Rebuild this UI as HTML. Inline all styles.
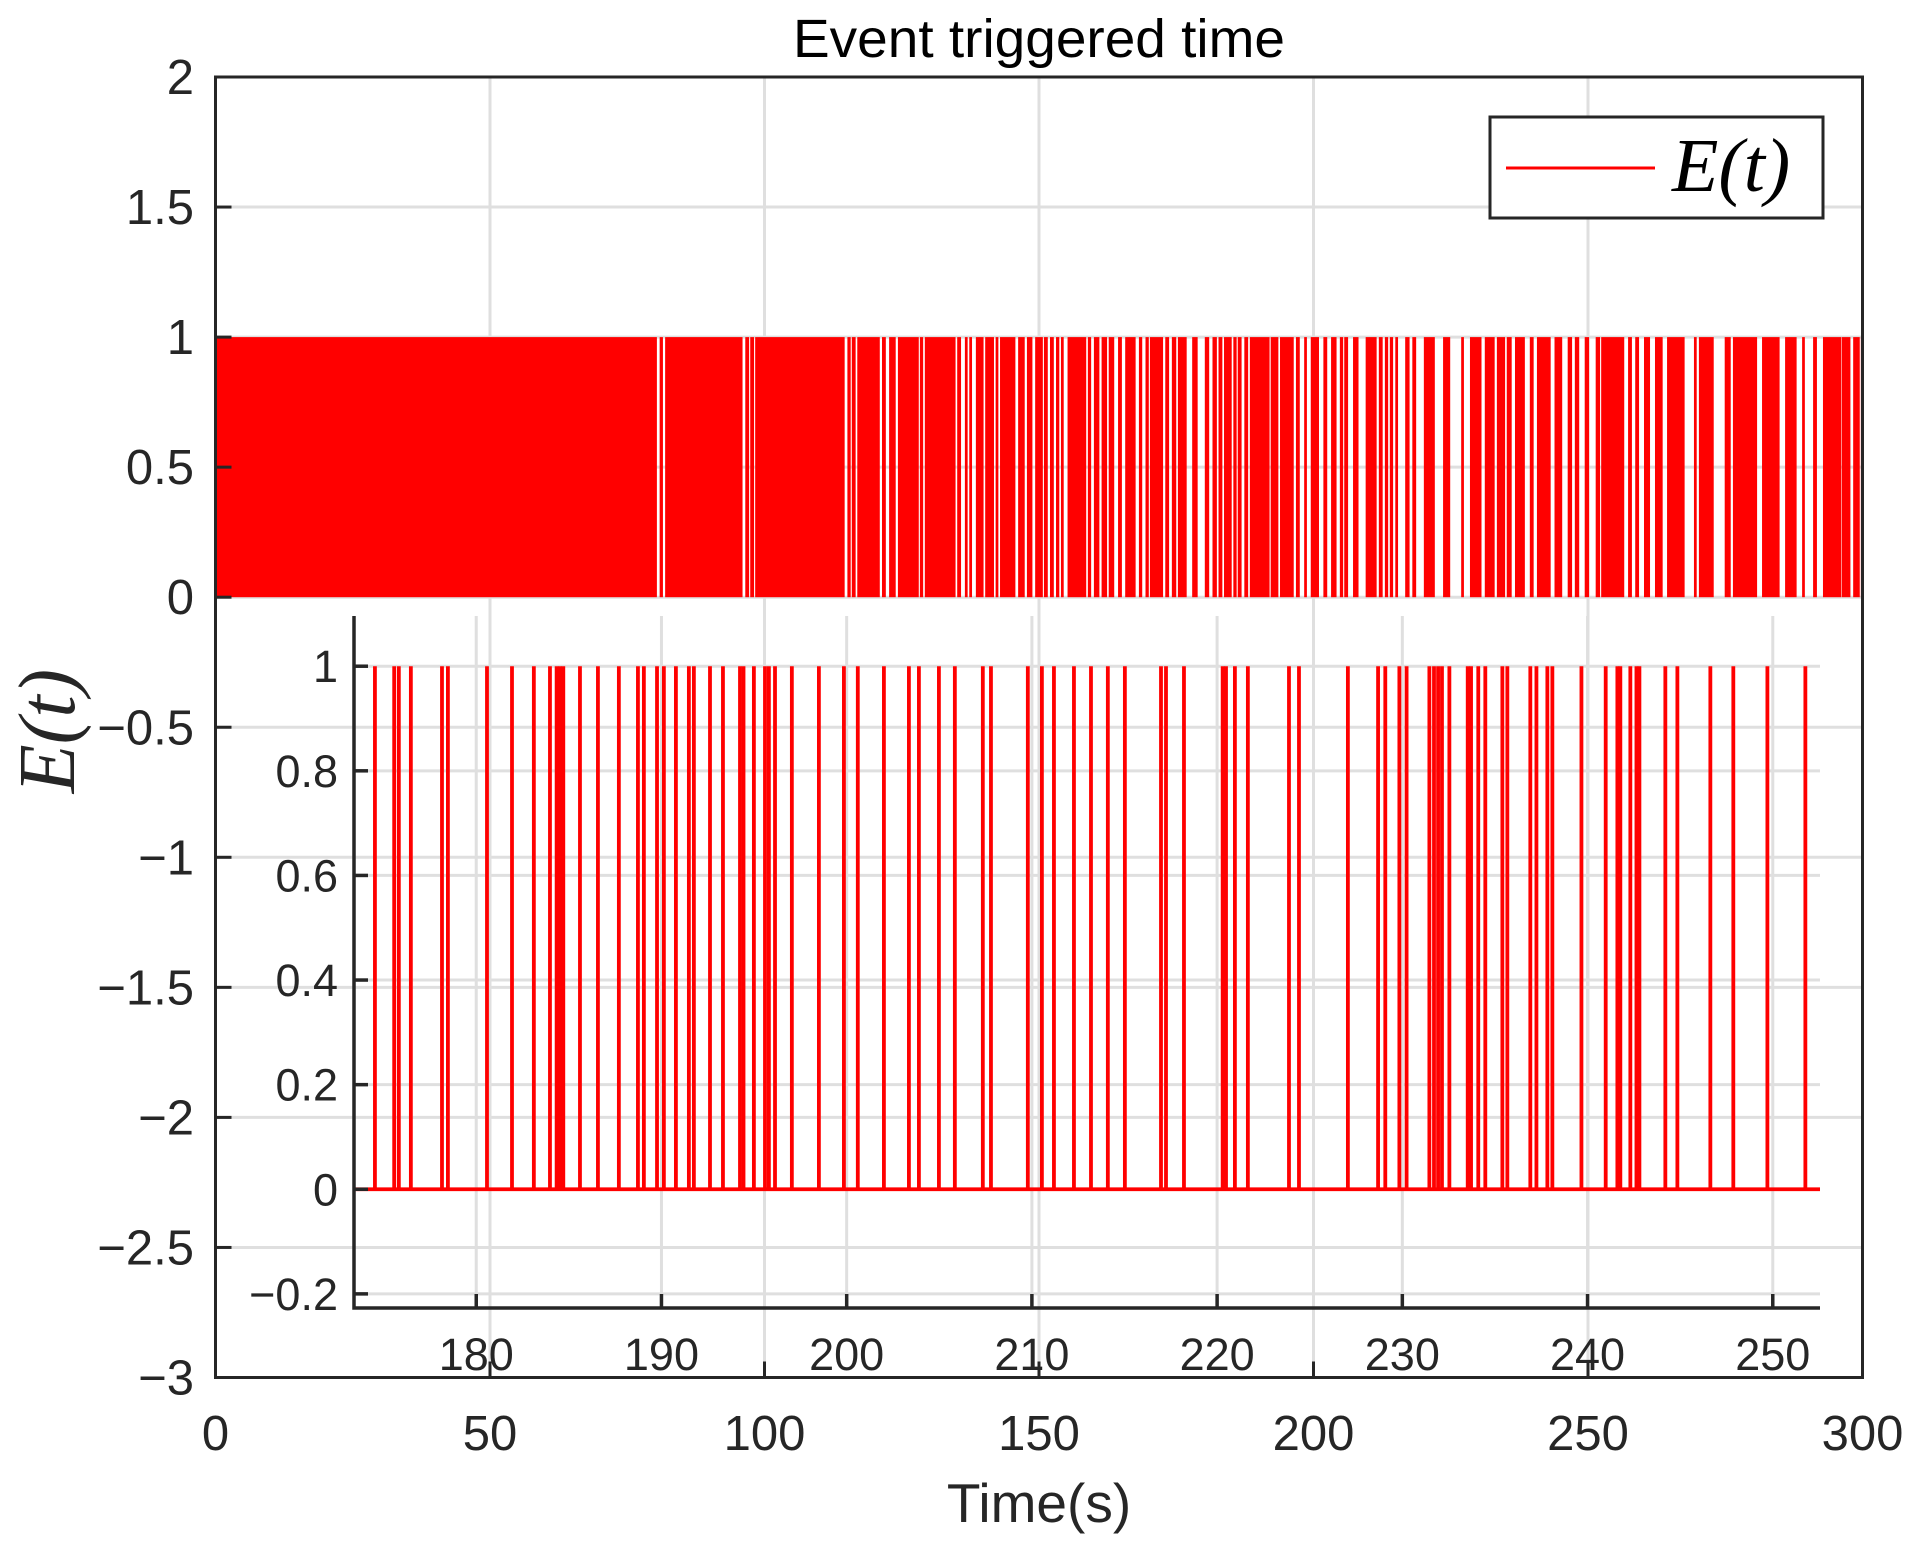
<!DOCTYPE html>
<html><head><meta charset="utf-8"><style>
html,body{margin:0;padding:0;background:#fff;}
svg{display:block;font-family:"Liberation Sans",sans-serif;}
</style></head><body>
<svg id="chart" width="1920" height="1546" viewBox="0 0 1920 1546">
<g id="mainGrid"></g>
<g id="mainMarks"></g>
<g id="insetGrid"></g>
<g id="insetMarks"></g>
<g id="axes"></g>
<text x="1039" y="57" font-size="54" text-anchor="middle" fill="#000" textLength="492" lengthAdjust="spacingAndGlyphs">Event triggered time</text>
<text x="1039" y="1522" font-size="55" text-anchor="middle" fill="#262626">Time(s)</text>
<text transform="translate(74,731) rotate(-90)" font-size="80" font-style="italic" font-family="'Liberation Serif',serif" text-anchor="middle" fill="#262626">E(t)</text>
<g>
<rect x="1490" y="117" width="333" height="101" fill="#fff" stroke="#262626" stroke-width="3"/>
<line x1="1506" y1="168" x2="1655" y2="168" stroke="#ff0000" stroke-width="3"/>
<text x="1672" y="191" font-size="76" font-style="italic" font-family="'Liberation Serif',serif" fill="#000">E(t)</text>
</g>
</svg>
<script>
// main plot data: time ranges where E(t) pulses are drawn densely
const mainBlocks = [[0,80.4],[80.9,81.5],[81.9,96.0],[96.5,97.2],[97.4,98.1],[98.3,114.6],[115.1,115.7],[115.9,116.6],[116.9,121.0],[121.4,122.1],[122.7,123.9],[124.3,128.1],[128.3,128.9],[129.2,134.8],[135.1,135.8],[136.5,137.0],[137.3,137.8],[138.5,139.9],[140.2,141.8],[142.1,142.6],[142.9,145.7],[146.2,147.4],[147.8,148.8],[149.3,150.7],[150.9,151.6],[152.0,152.7],[153.1,153.7],[154.0,154.5],[155.2,158.6],[158.9,159.5],[160.0,161.0],[161.4,162.4],[162.7,163.7],[164.4,165.1],[165.7,167.6],[168.2,168.8],[169.4,170.0],[170.2,172.6],[173.0,173.7],[174.2,175.0],[175.3,176.9],[177.9,178.9],[180.2,181.0],[181.6,182.4],[182.7,183.4],[183.7,185.1],[185.4,186.0],[186.2,186.9],[187.4,188.1],[188.4,192.0],[192.2,193.6],[193.9,196.4],[196.8,197.5],[198.3,198.8],[199.5,201.0],[201.8,202.5],[203.2,204.2],[204.8,205.4],[205.6,206.3],[207.2,208.2],[209.5,211.5],[211.9,212.6],[213.0,213.6],[213.9,214.5],[214.9,215.4],[216.7,217.5],[218.0,218.7],[220.1,222.1],[223.6,224.9],[226.9,227.4],[228.5,230.6],[231.2,233.0],[233.4,234.9],[235.2,236.1],[236.7,238.5],[239.4,240.1],[240.7,243.2],[243.9,245.3],[246.3,247.1],[247.6,248.4],[249.4,250.2],[251.4,252.2],[252.4,256.6],[257.3,258.0],[258.6,259.3],[260.2,261.3],[262.2,263.6],[264.4,267.6],[269.3,269.8],[270.2,272.9],[274.9,276.0],[276.4,280.8],[281.7,284.9],[285.9,288.0],[289.0,289.5],[291.0,291.7],[292.8,296.1],[296.2,297.8],[298.3,299.5],[299.7,300]];
const mainXTicks = [0,50,100,150,200,250,300];
const mainYTicks = [-3,-2.5,-2,-1.5,-1,-0.5,0,0.5,1,1.5,2];
const mainYLabels = ["\u22123","\u22122.5","\u22122","\u22121.5","\u22121","\u22120.5","0","0.5","1","1.5","2"];
// inset data: event trigger instants
const insetEvents = [174.53,175.57,175.82,176.47,178.15,178.47,180.58,181.93,183.11,183.98,184.34,184.52,184.70,185.60,186.57,187.70,188.73,189.05,189.76,190.13,190.78,191.48,191.75,192.62,193.32,194.24,194.43,194.99,195.59,195.80,196.13,197.04,198.50,199.85,200.60,202.01,203.36,203.90,204.98,205.84,207.35,207.79,209.78,210.54,211.19,212.27,213.19,214.10,215.02,216.97,217.24,218.21,220.30,220.48,220.96,221.66,223.88,224.42,227.06,228.69,229.08,229.84,230.23,231.46,231.71,231.93,232.14,232.54,233.53,233.71,234.10,234.48,235.40,235.67,236.91,237.24,237.83,238.10,239.67,240.98,241.61,241.77,242.31,242.64,242.80,244.20,244.85,246.63,247.87,249.71,251.76];
const insetXTicks = [180,190,200,210,220,230,240,250];
const insetYTicks = [-0.2,0,0.2,0.4,0.6,0.8,1];
const insetYLabels = ["\u22120.2","0","0.2","0.4","0.6","0.8","1"];

const NS="http://www.w3.org/2000/svg";
function mk(tag,attrs,parent){const e=document.createElementNS(NS,tag);for(const k in attrs)e.setAttribute(k,attrs[k]);parent.appendChild(e);return e;}
const M={x0:215.5,x1:1862.5,y0:77,y1:1377.5,xmin:0,xmax:300,ymin:-3,ymax:2};
const mx=t=>M.x0+(t-M.xmin)/(M.xmax-M.xmin)*(M.x1-M.x0);
const my=v=>M.y1-(v-M.ymin)/(M.ymax-M.ymin)*(M.y1-M.y0);
const I={x0:354,x1:1820,y0:616,y1:1308,xmin:173.4,xmax:252.55,ymin:-0.227,ymax:1.096};
const ix=t=>I.x0+(t-I.xmin)/(I.xmax-I.xmin)*(I.x1-I.x0);
const iy=v=>I.y1-(v-I.ymin)/(I.ymax-I.ymin)*(I.y1-I.y0);

const mg=document.getElementById('mainGrid');
mainXTicks.forEach(t=>{const l=mk('line',{x1:mx(t),x2:mx(t),y1:M.y0,y2:M.y1,stroke:'#dfdfdf','stroke-width':3},mg);

});
mainYTicks.forEach(v=>{const l=mk('line',{x1:M.x0,x2:M.x1,y1:my(v),y2:my(v),stroke:'#dfdfdf','stroke-width':3},mg);

});

const mm=document.getElementById('mainMarks');
mainBlocks.forEach(b=>{const r=mk('rect',{x:mx(b[0]),y:my(1),width:Math.max(1.5,mx(b[1])-mx(b[0])),height:my(0)-my(1),fill:'#ff0000'},mm);

});

const ig=document.getElementById('insetGrid');
insetXTicks.forEach(t=>{const l=mk('line',{x1:ix(t),x2:ix(t),y1:I.y0,y2:I.y1,stroke:'#dfdfdf','stroke-width':3},ig);

});
insetYTicks.forEach(v=>{const l=mk('line',{x1:I.x0,x2:I.x1,y1:iy(v),y2:iy(v),stroke:'#dfdfdf','stroke-width':3},ig);

});

const im=document.getElementById('insetMarks');
insetEvents.forEach(t=>{const l=mk('line',{x1:ix(t),x2:ix(t),y1:iy(0),y2:iy(1),stroke:'#ff0000','stroke-width':3.8},im);

});
const base=mk('line',{x1:I.x0,x2:I.x1,y1:iy(0),y2:iy(0),stroke:'#ff0000','stroke-width':3.8},im);



const ax=document.getElementById('axes');
const box=mk('rect',{x:M.x0,y:M.y0,width:M.x1-M.x0,height:M.y1-M.y0,fill:'none',stroke:'#262626','stroke-width':3},ax);


mainXTicks.forEach(t=>{mk('line',{x1:mx(t),x2:mx(t),y1:M.y1,y2:M.y1-16,stroke:'#262626','stroke-width':3},ax);
const tx=mk('text',{x:mx(t),y:1450,'font-size':49,'text-anchor':'middle',fill:'#262626'},ax);tx.textContent=t;

});
mainYTicks.forEach((v,i)=>{mk('line',{x1:M.x0,x2:M.x0+16,y1:my(v),y2:my(v),stroke:'#262626','stroke-width':3},ax);
const tx=mk('text',{x:194,y:my(v)+17,'font-size':49,'text-anchor':'end',fill:'#262626'},ax);tx.textContent=mainYLabels[i];

});

const il=mk('path',{d:`M${I.x0},${I.y0} L${I.x0},${I.y1} L${I.x1},${I.y1}`,fill:'none',stroke:'#262626','stroke-width':3.5},ax);


insetXTicks.forEach(t=>{mk('line',{x1:ix(t),x2:ix(t),y1:I.y1,y2:I.y1-14,stroke:'#262626','stroke-width':3.5},ax);
const tx=mk('text',{x:ix(t),y:1370,'font-size':45,'text-anchor':'middle',fill:'#262626'},ax);tx.textContent=t;

});
insetYTicks.forEach((v,i)=>{mk('line',{x1:I.x0,x2:I.x0+14,y1:iy(v),y2:iy(v),stroke:'#262626','stroke-width':3.5},ax);
const tx=mk('text',{x:338,y:iy(v)+16,'font-size':45,'text-anchor':'end',fill:'#262626'},ax);tx.textContent=insetYLabels[i];

});
</script>
</body></html>
